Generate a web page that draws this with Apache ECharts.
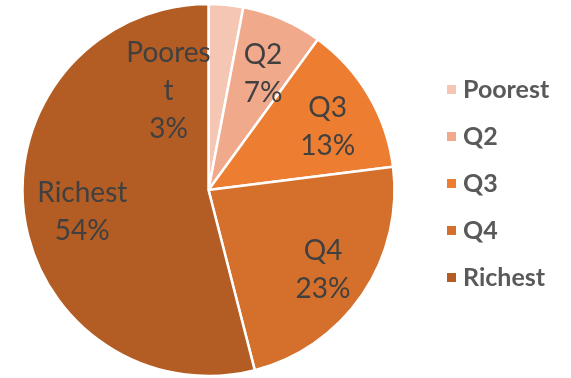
<!DOCTYPE html>
<html>
<head>
<meta charset="utf-8">
<script src="https://cdn.jsdelivr.net/npm/echarts@6/dist/echarts.min.js"></script>
<style>
  html, body { margin: 0; padding: 0; background: #ffffff; }
  #chart { width: 571px; height: 378px; }
</style>
</head>
<body>
<div id="chart"></div>
<script>
// Share of total by wealth quintile
const categories = ['Poorest', 'Q2', 'Q3', 'Q4', 'Richest'];
const shares = [3, 7, 13, 23, 54];
const colors = ['#F6C6B5', '#F0A98B', '#ED7D31', '#D4702C', '#B35C23'];

const CX = 208.5, CY = 190, R = 186;

// label nudges (px) applied after pushing the labels outward from the centre
const labelNudge = [[-49, -3], [0, 10], [1, 7], [1, 3], [10, 5]];

const chart = echarts.init(document.getElementById('chart'), null, { renderer: 'canvas' });

const data = categories.map((name, i) => {
  const item = { name, value: shares[i], itemStyle: { color: colors[i] } };
  if (i === 0) {
    // the thin first slice wraps its label and sits it beside the slice
    item.label = { width: 88, overflow: 'breakAll' };
  }
  return item;
});

chart.setOption({
  animation: false,
  legend: {
    orient: 'vertical',
    left: 440,
    top: 72,
    icon: 'rect',
    itemWidth: 11,
    itemHeight: 11,
    itemGap: 22,
    textStyle: {
      fontFamily: 'Lato',
      fontWeight: 'bold',
      fontSize: 25,
      lineHeight: 24,
      color: '#595959',
      padding: [0, 0, 0, 1]
    },
    data: categories
  },
  series: [{
    type: 'pie',
    center: [CX, CY],
    radius: [0, R],
    startAngle: 90,
    clockwise: true,
    avoidLabelOverlap: false,
    itemStyle: { borderColor: '#ffffff', borderWidth: 2.5 },
    label: {
      show: true,
      position: 'inside',
      formatter: '{b}\n{d}%',
      fontFamily: 'Lato',
      fontSize: 28,
      lineHeight: 38,
      color: '#404040'
    },
    labelLine: { show: false },
    emphasis: { disabled: true },
    labelLayout: function (params) {
      const i = params.dataIndex;
      const n = labelNudge[i];
      if (i === 0) {
        return { dx: n[0], dy: n[1] };
      }
      const r = params.labelRect;
      const lx = r.x + r.width / 2;
      const ly = r.y + r.height / 2;
      const f = 1.43;
      return { dx: (f - 1) * (lx - CX) + n[0], dy: (f - 1) * (ly - CY) + n[1] };
    },
    data: data
  }]
});
</script>
</body>
</html>
